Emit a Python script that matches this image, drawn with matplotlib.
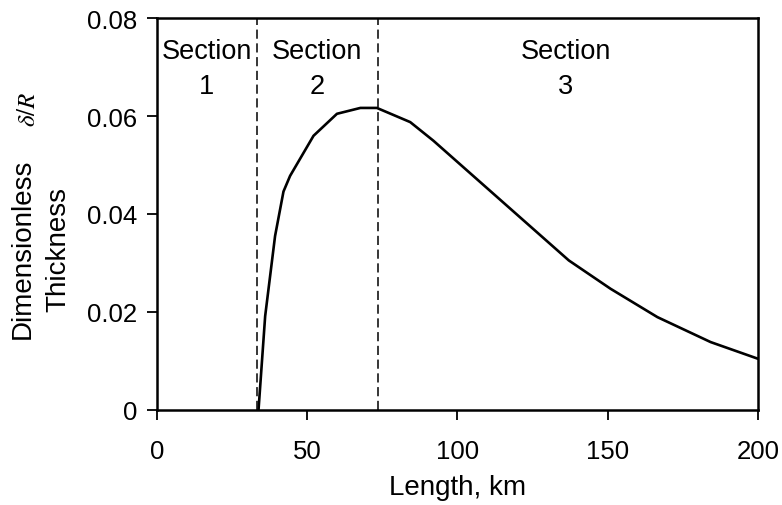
import matplotlib
matplotlib.use("Agg")
import matplotlib.pyplot as plt

# Data
length_km = [33.8, 36.0, 39.3, 42.1, 44.3, 52.1, 59.9, 67.7, 73.2, 84.3, 92.0,
             137.1, 151.0, 166.6, 184.3, 200.0]
thickness = [0.0, 0.0191, 0.0355, 0.0446, 0.0478, 0.0560, 0.0605, 0.0617, 0.0617,
             0.0588, 0.0550, 0.0305, 0.0247, 0.0189, 0.0138, 0.0104]
section_bounds = [33.3, 73.6]
section_labels = ["Section\n1", "Section\n2", "Section\n3"]
section_label_x = [16.6, 53.2, 136.0]
x_ticks = [0, 50, 100, 150, 200]
y_ticks = [0, 0.02, 0.04, 0.06, 0.08]
y_tick_labels = ["0", "0.02", "0.04", "0.06", "0.08"]

plt.rcParams['font.family'] = ['Liberation Sans', 'DejaVu Sans']

fig = plt.figure(figsize=(7.82, 5.06), dpi=100)
ax = fig.add_axes([0.2008, 0.1887, 0.969 - 0.2008, 0.9615 - 0.1887])

ax.plot(length_km, thickness, color='black', lw=1.9)
for b in section_bounds:
    ax.axvline(b, color='black', lw=1.1, ls=(0, (6, 3)))

for x, lab in zip(section_label_x, section_labels):
    top, bottom = lab.split("\n")
    ax.text(x, 0.07195, top, ha='center', va='baseline', fontsize=19.5)
    ax.text(x, 0.06484, bottom, ha='center', va='baseline', fontsize=19.5)

ax.set_xlim(0, 200)
ax.set_ylim(0, 0.08)
ax.set_xticks(x_ticks)
ax.set_xticklabels([str(t) for t in x_ticks])
ax.set_yticks(y_ticks)
ax.set_yticklabels(y_tick_labels)
ax.tick_params(axis='both', direction='out', labelsize=18.5, width=1.3, color='black')
ax.tick_params(axis='x', length=7, pad=14)
ax.tick_params(axis='y', length=7, pad=7)
for s in ax.spines.values():
    s.set_linewidth(1.8)

ax.set_xlabel("Length, km", fontsize=20, labelpad=8)
fig.text(0.0285, 0.508, "Dimensionless", rotation=90, ha='center', va='center', fontsize=20)
fig.text(0.0745, 0.506, "Thickness", rotation=90, ha='center', va='center', fontsize=20)
fig.text(0.036, 0.783, r"$\delta/R$", rotation=90, ha='center', va='center', fontsize=18,
         math_fontfamily='stix')

fig.savefig("out.png", dpi=100)
